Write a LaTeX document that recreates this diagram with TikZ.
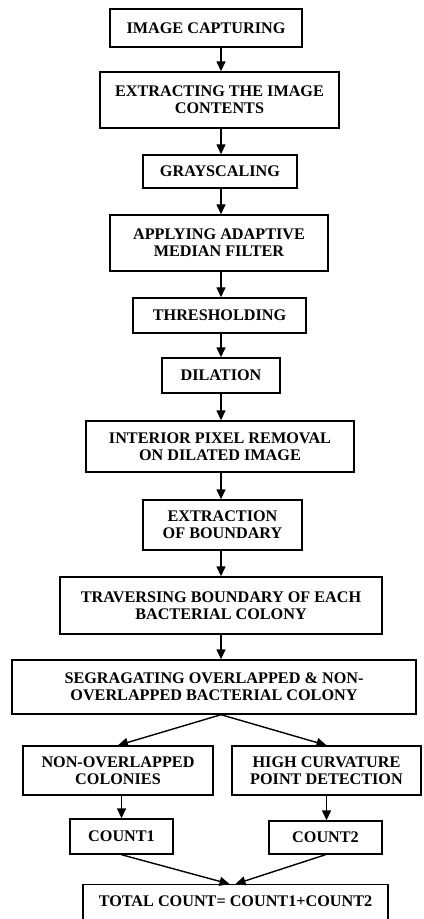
\documentclass[tikz,border=0pt]{standalone}
\usepackage{fontspec}
\setmainfont{Liberation Serif}
\usetikzlibrary{arrows.meta}
\begin{document}
\begin{tikzpicture}[x=0.5pt,y=-0.5pt,
  blk/.style={draw,line width=0.7pt,align=center,inner sep=0pt,
    font=\fontsize{8.1}{8.4}\selectfont\bfseries},
  arr/.style={-{Triangle[length=5pt,width=4.5pt]},line width=0.7pt}]
  \useasboundingbox (0,0) rectangle (423,919);
  \coordinate (spine) at (221,0);
  \node[blk,minimum width=96pt,minimum height=19pt] (cap) at (206,28) {IMAGE CAPTURING};
  \node[blk,minimum width=119.5pt,minimum height=28pt] (ext) at (219.5,100) {EXTRACTING THE IMAGE\\CONTENTS};
  \node[blk,minimum width=77pt,minimum height=16.5pt] (gray) at (220,171.5) {GRAYSCALING};
  \node[blk,minimum width=109pt,minimum height=28pt] (amf) at (219,243) {APPLYING ADAPTIVE\\MEDIAN FILTER};
  \node[blk,minimum width=86.5pt,minimum height=17.5pt] (thr) at (219.5,315.5) {THRESHOLDING};
  \node[blk,minimum width=59pt,minimum height=17.5pt] (dil) at (221,375.5) {DILATION};
  \node[blk,minimum width=134pt,minimum height=25.5pt] (ipr) at (220,446.5) {INTERIOR PIXEL REMOVAL\\ON DILATED IMAGE};
  \node[blk,minimum width=79.5pt,minimum height=25pt] (bnd) at (222.5,525) {EXTRACTION\\OF BOUNDARY};
  \node[blk,minimum width=161pt,minimum height=28.5pt] (trav) at (221,605.5) {TRAVERSING BOUNDARY OF EACH\\BACTERIAL COLONY};
  \node[blk,minimum width=202pt,minimum height=27pt] (seg) at (214,687) {SEGRAGATING OVERLAPPED \& NON-\\OVERLAPPED BACTERIAL COLONY};
  \node[blk,minimum width=95pt,minimum height=24.5pt] (nonov) at (118,770.5) {NON-OVERLAPPED\\COLONIES};
  \node[blk,minimum width=94.5pt,minimum height=24.5pt] (hcp) at (326.5,770.5) {HIGH CURVATURE\\POINT DETECTION};
  \node[blk,minimum width=51.5pt,minimum height=17.5pt] (cnt1) at (121.5,836.5) {COUNT1};
  \node[blk,minimum width=56.5pt,minimum height=16.5pt] (cnt2) at (325.5,837.5) {COUNT2};
  \node[blk,minimum width=152.5pt,minimum height=20pt,text depth=0pt,anchor=north] (tot) at (235.5,884) {\\[-7pt]TOTAL COUNT= COUNT1+COUNT2};
  % main column
  \foreach \a/\b in {cap/ext,ext/gray,gray/amf,amf/thr,thr/dil,dil/ipr,ipr/bnd,bnd/trav,trav/seg}
    \draw[arr] (\a.south -| spine) -- (\b.north -| spine);
  % branches
  \draw[arr] (seg.south -| spine) -- (nonov.north);
  \draw[arr] (seg.south -| spine) -- (hcp.north);
  \draw[arr] (nonov.south -| cnt1) -- (cnt1.north);
  \draw[arr] (hcp.south) -- (hcp.south |- cnt2.north);
  \draw[arr] (cnt1.south) -- ([xshift=-3pt]tot.north);
  \draw[arr] (cnt2.south) -- ([xshift=0pt]tot.north);
\end{tikzpicture}
\end{document}
